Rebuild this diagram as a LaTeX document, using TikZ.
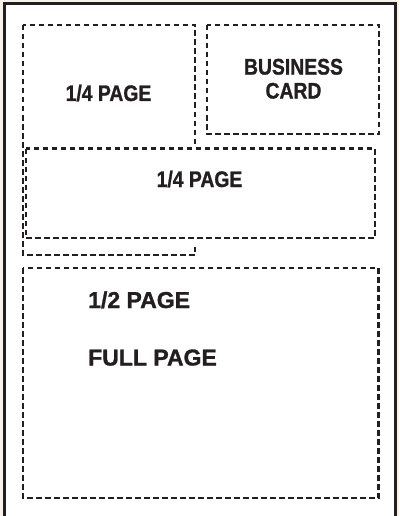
\documentclass[tikz,border=0pt]{standalone}
\usepackage{fontspec}
\setmainfont{Liberation Sans}[BoldFeatures={FakeBold=1.2}]
\newcommand{\narrowtxt}[1]{\scalebox{0.86}[1]{#1}}
\definecolor{ink}{RGB}{35,31,32}
\definecolor{paper}{RGB}{247,241,236}
\tikzset{ad/.style = {draw=ink, line width=2.2pt, dash pattern=on 5.5pt off 3.5pt},
           cl/.style = {inner sep=0pt, text=ink, font=\bfseries\fontsize{22.5}{24}\selectfont},
           wl/.style = {inner sep=0pt, text=ink, font=\bfseries\fontsize{23}{24}\selectfont}}

\begin{document}
\begin{tikzpicture}[x=1pt, y=-1pt]
    \useasboundingbox (0,0) rectangle (399,516);
    \fill[paper] (0,0) rectangle (399,516);
    \draw[ink, line width=3pt, fill=white] (4,4) rectangle (395.5,519);
    % ad boxes
    \draw[ad] (23,25) rectangle (195,255);
    \draw[ad] (207,25) rectangle (379,134);
    \fill[white] (24.8,143.5) rectangle (376,242.5);
    \draw[ad] (25.8,148.5) rectangle (375,238);
    \draw[ad] (23,268) rectangle (378.5,498);
    % labels
    \node[cl, anchor=base] (qa) at (108.5,101) {\narrowtxt{1/4 PAGE}};
    \node[cl, align=center] (bc) at (293.5,78.8) {\narrowtxt{BUSINESS}\\\narrowtxt{CARD}};
    \node[cl, anchor=base] (qb) at (199.5,187) {\narrowtxt{1/4 PAGE}};
    \node[wl, anchor=base west] (hp) at (88,308) {1/2 PAGE};
    \node[wl, anchor=base west] (fp) at (88,365.5) {FULL PAGE};
\end{tikzpicture}
\end{document}
